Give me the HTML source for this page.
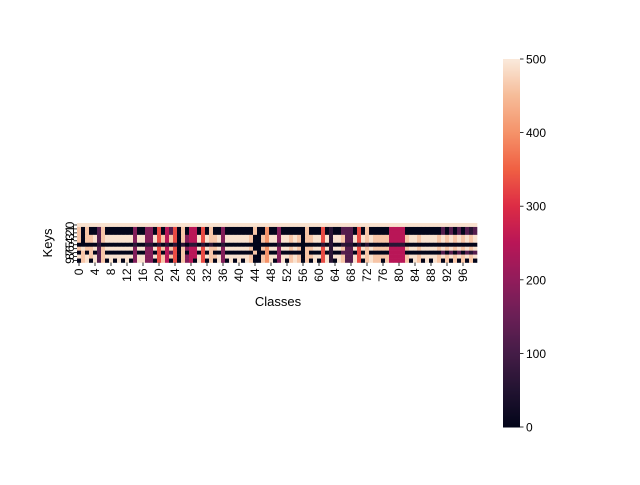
<!DOCTYPE html>
<html><head><meta charset="utf-8"><style>
body{margin:0;background:#fff;}
svg text{font-family:"Liberation Sans",sans-serif;fill:#000;}
</style></head><body>
<svg id="c" width="640" height="480" xmlns="http://www.w3.org/2000/svg"></svg>
<script>
const rowLabels=["0","1","2","3","4","5","6","7","8","9"];
const row0=["8888888888","8888888888","8888888888","8888888888","8888888888","8888888888","8888888888","8888888888","8888888888","8888888888"].join("");
const row1=["7070027000","0000300330","5042507044","0507003000","0000700600","3000000700","0501002220","5070000044","4400000000","0202020212"].join("");
const row2=["7070027000","0000300330","5042507044","0507003000","0000700600","3000000700","0501002220","5070000044","4400000000","0202020212"].join("");
const row3=["7077827888","8888388338","5747507344","8587783888","8887007688","3887870778","8581887228","5878777744","4478878888","7878787878"].join("");
const row4=["7077827888","8888388338","5747507344","8587783888","8887007688","3887870778","8581887228","5878777744","4478878888","7878787878"].join("");
const row5=["0000010000","0000100110","1010101011","0101001000","0000000000","1000000000","0101001110","1010000011","1100000000","0000000000"].join("");
const row6=["7877827888","8888388338","5747507344","8587783888","8887007688","3887870778","8581887228","5878777744","4478878888","7878787878"].join("");
const row7=["0707027000","0000300330","5042507044","0507003000","0000700600","3000000700","0501002220","5070000044","4400000000","0202020212"].join("");
const row8=["8787827888","8888388338","5747507344","8587783888","8887007688","3887870778","8581887228","5878777744","4478878888","7878787878"].join("");
const row9=["0780827080","8080388330","5740507340","8507083080","8087007680","3807870708","0581087228","5078770744","4470870808","7070707070"].join("");
const rows=[row0,row1,row2,row3,row4,row5,row6,row7,row8,row9];
const levelValues=[0,60,120,180,250,330,400,460,490];
const cbTicks=[0,100,200,300,400,500];
const xTicks=[0,4,8,12,16,20,24,28,32,36,40,44,48,52,56,60,64,68,72,76,80,84,88,92,96];
const ncols=100;

const stops=["#03051a","#221331","#451c47","#6a1f56","#921c5b","#b91657","#dd2c45","#f06043","#f5936a","#f6bc99","#faebdd"];
function hex(h){return [1,3,5].map(i=>parseInt(h.substr(i,2),16));}
function cmap(v){let t=Math.max(0,Math.min(1,v/500))*10;let i=Math.min(9,Math.floor(t));let f=t-i;let a=hex(stops[i]),b=hex(stops[i+1]);
return "rgb("+a.map((x,k)=>Math.round(x+(b[k]-x)*f)).join(",")+")";}
const L=77,T=223,W=400,H=39.5;
const xs=i=>L+i*W/ncols, ys=j=>T+j*H/rows.length;
const cbY=v=>427-(v/500)*368;
const svg=document.getElementById('c');
const NS="http://www.w3.org/2000/svg";
function mk(t,a,p){const e=document.createElementNS(NS,t);for(const k in a)e.setAttribute(k,a[k]);(p||svg).appendChild(e);return e;}
const g=mk('g',{});


rows.forEach((r,j)=>{for(let i=0;i<ncols;i++){const ch=r[i]===undefined?"8":r[i];const v=levelValues[+ch];
const c=mk('rect',{x:xs(i),y:ys(j),width:W/ncols+0.3,height:H/rows.length+0.3,fill:cmap(v)},g);

}});
xTicks.forEach(t=>{const x=xs(t+0.5);
const l=mk('line',{x1:x,x2:x,y1:T+H,y2:T+H+3.5,stroke:'#000','stroke-width':0.8});


const tx=mk('text',{x:0,y:0,'font-size':12,'text-anchor':'end',transform:`translate(${x+4},${T+H+6}) rotate(-90)`});
tx.textContent=t;

});
rowLabels.forEach((t,j)=>{const y=ys(j+0.5);
const l=mk('line',{x1:L-3.5,x2:L,y1:y,y2:y,stroke:'#000','stroke-width':0.8});


const tx=mk('text',{x:0,y:0,'font-size':12,'text-anchor':'middle',transform:`translate(${L-6},${y}) rotate(-90)`,'dominant-baseline':'middle'});
tx.textContent=t;

});
let xl=mk('text',{x:278,y:306,'font-size':13,'text-anchor':'middle'});xl.textContent='Classes';


let yl=mk('text',{x:0,y:0,'font-size':13,'text-anchor':'middle',transform:'translate(52,243) rotate(-90)'});yl.textContent='Keys';


const cb=mk('g',{});


for(let k=0;k<184;k++){const v=k*500/184;mk('rect',{x:503,y:cbY(v+500/184),width:17,height:368/184+0.5,fill:cmap(v)},cb);}
cbTicks.forEach(t=>{const y=cbY(t);
const l=mk('line',{x1:520,x2:523.5,y1:y,y2:y,stroke:'#000','stroke-width':0.8});


const tx=mk('text',{x:526,y:y+4.5,'font-size':12});tx.textContent=t;

});
</script>
</body></html>
